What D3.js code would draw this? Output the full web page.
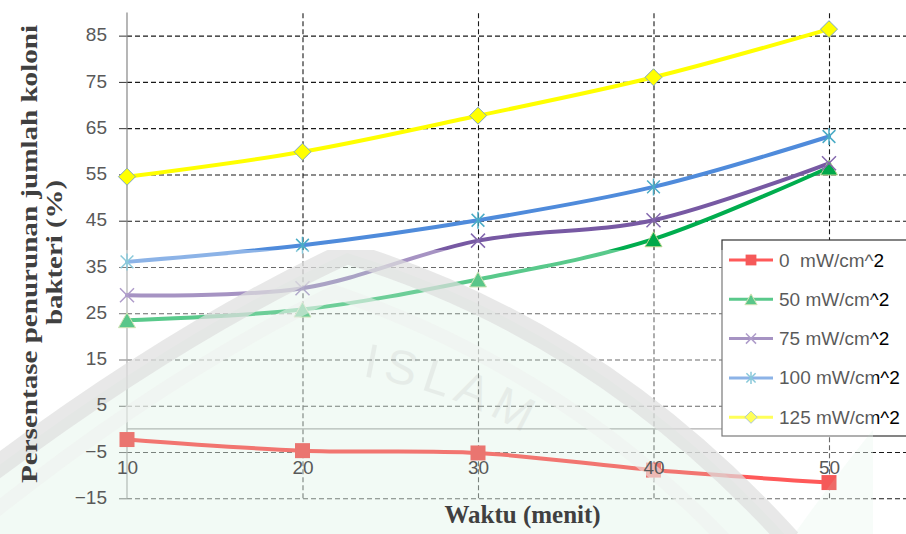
<!DOCTYPE html>
<html>
<head>
<meta charset="utf-8">
<script src="https://cdn.jsdelivr.net/npm/d3@7/dist/d3.min.js"></script>
<style>
  html, body { margin: 0; padding: 0; background: #fff; }
  svg { display: block; }
</style>
</head>
<body>
<svg id="chart" width="906" height="534"></svg>
<script>
// Waktu penyinaran (menit)
const waktu = [10, 20, 30, 40, 50];

// Persentase penurunan jumlah koloni bakteri (%) per intensitas
const intensitas0   = [-2.3, -4.7, -5.2, -8.9, -11.6];
const intensitas50  = [23.5, 25.8, 32.3, 41.0, 56.5];
const intensitas75  = [28.9, 30.4, 40.7, 45.1, 57.4];
const intensitas100 = [36.1, 39.7, 45.1, 52.3, 63.2];
const intensitas125 = [54.5, 59.9, 67.7, 76.0, 86.4];

const seriesLabels = ["0  mW/cm^2", "50 mW/cm^2", "75 mW/cm^2", "100 mW/cm^2", "125 mW/cm^2"];
const yTicks = [-15, -5, 5, 15, 25, 35, 45, 55, 65, 75, 85];

const W = 906, H = 534;
const svg = d3.select("#chart");

const x = d3.scaleLinear().domain([10, 50]).range([127, 829]);
const y = d3.scaleLinear().domain([-15, 90]).range([498.3, 12.5]);

svg.append("rect").attr("width", W).attr("height", H).attr("fill", "#fff");

// ---------- grid & axes ----------
const base = svg.append("g");

const gridY = base.append("g")
  .attr("transform", `translate(${x(10)},0)`)
  .call(d3.axisLeft(y).tickValues(yTicks).tickSize(-(W - x(10))).tickFormat(""));
gridY.select(".domain").remove();
gridY.selectAll(".tick line").attr("stroke", "#1a1a1a").attr("stroke-width", 1.1).attr("stroke-dasharray", "5,3");

const gridX = base.append("g")
  .attr("transform", `translate(0,${y(-15)})`)
  .call(d3.axisBottom(x).tickValues(waktu.slice(1)).tickSize(-(y(-15) - y(90))).tickFormat(""));
gridX.select(".domain").remove();
gridX.selectAll(".tick line").attr("stroke", "#1a1a1a").attr("stroke-width", 1.1).attr("stroke-dasharray", "5,3");

// small outside tick marks on the value axis
const tickMarks = base.append("g")
  .attr("transform", `translate(${x(10)},0)`)
  .call(d3.axisLeft(y).tickValues(yTicks).tickSize(8).tickFormat(""));
tickMarks.select(".domain").remove();
tickMarks.selectAll(".tick line").attr("stroke", "#333").attr("stroke-width", 1);

// value axis line and the horizontal line at zero
base.append("line")
  .attr("x1", x(10)).attr("x2", x(10)).attr("y1", y(90)).attr("y2", y(-15))
  .attr("stroke", "#868686").attr("stroke-width", 1.2);
base.append("line")
  .attr("x1", x(10)).attr("x2", W).attr("y1", y(0)).attr("y2", y(0))
  .attr("stroke", "#868686").attr("stroke-width", 1.2);

// ---------- marker glyphs ----------
function squarePath(s) { const h = s / 2; return `M${-h},${-h}H${h}V${h}H${-h}Z`; }
function trianglePath(w, h) { return `M0,${-h / 2}L${w / 2},${h / 2}L${-w / 2},${h / 2}Z`; }
function crossPath(s) { const h = s / 2; return `M${-h},${-h}L${h},${h}M${-h},${h}L${h},${-h}`; }
function starPath(s) { const h = s / 2, d = h * 0.75; return `M0,${-h}V${h}M${-d},${-d}L${d},${d}M${-d},${d}L${d},${-d}`; }
function diamondPath(w, h) { return `M0,${-h / 2}L${w / 2},0L0,${h / 2}L${-w / 2},0Z`; }

const series = [
  { label: seriesLabels[0], values: intensitas0,   line: "#FF0000",
    marker: s => squarePath(s * 15), fill: "#F00000", stroke: "#F00000", sw: 0 },
  { label: seriesLabels[1], values: intensitas50,  line: "#00AD4E",
    marker: s => trianglePath(s * 17, s * 15), fill: "#00A84A", stroke: "#B7D38C", sw: 1 },
  { label: seriesLabels[2], values: intensitas75,  line: "#7759A3",
    marker: s => crossPath(s * 14), fill: "none", stroke: "#8468AE", sw: 1.5 },
  { label: seriesLabels[3], values: intensitas100, line: "#4F8BDB",
    marker: s => starPath(s * 17), fill: "none", stroke: "#4BACC6", sw: 1.5 },
  { label: seriesLabels[4], values: intensitas125, line: "#FFFF00",
    marker: s => diamondPath(s * 17, s * 17), fill: "#FFFF00", stroke: "#7FA7C4", sw: 1 }
];

// ---------- series ----------
const lineGen = d3.line()
  .x((d, i) => x(waktu[i]))
  .y(d => y(d))
  .curve(d3.curveCatmullRom.alpha(0));

const plot = svg.append("g");
series.forEach(s => {
  plot.append("path")
    .attr("d", lineGen(s.values))
    .attr("fill", "none")
    .attr("stroke", s.line)
    .attr("stroke-width", 4)
    .attr("stroke-linecap", "round")
    .attr("stroke-linejoin", "round");
});
series.forEach(s => {
  plot.append("g").selectAll("path")
    .data(s.values)
    .join("path")
    .attr("transform", (d, i) => `translate(${x(waktu[i])},${y(d)})`)
    .attr("d", s.marker(1))
    .attr("fill", s.fill)
    .attr("stroke", s.stroke)
    .attr("stroke-width", s.sw);
});

// ---------- legend ----------
const legend = svg.append("g").attr("transform", "translate(722,240)");
legend.append("rect")
  .attr("x", 0).attr("y", 0).attr("width", 210).attr("height", 196)
  .attr("fill", "#fff").attr("stroke", "#333").attr("stroke-width", 1.2);

const items = legend.selectAll("g.item")
  .data(series)
  .join("g")
  .attr("class", "item")
  .attr("transform", (d, i) => `translate(0,${20 + i * 39.3})`);
items.append("line")
  .attr("x1", 7).attr("x2", 51).attr("y1", 0).attr("y2", 0)
  .attr("stroke", d => d.line).attr("stroke-width", 3);
items.append("path")
  .attr("transform", "translate(29,0)")
  .attr("d", d => d.marker(0.72))
  .attr("fill", d => d.fill)
  .attr("stroke", d => d.stroke)
  .attr("stroke-width", d => d.sw);
const legendText = items.append("text")
  .attr("x", 57).attr("y", 6.5)
  .attr("font-family", "'Liberation Sans', Arial, sans-serif")
  .attr("font-size", 19)
  .attr("fill", "#000")
  .style("white-space", "pre");
legendText.append("tspan").text(d => d.label.split("^")[0]);
legendText.append("tspan").text(d => "^" + d.label.split("^")[1]);

// ---------- faded emblem over the lower part of the page ----------
const defs = svg.append("defs");
defs.append("clipPath").attr("id", "wmClip")
  .append("rect").attr("x", 0).attr("y", 250).attr("width", 873).attr("height", H - 250);

const wm = svg.append("g").attr("clip-path", "url(#wmClip)");
wm.append("rect").attr("x", 0).attr("y", 0).attr("width", W).attr("height", H)
  .attr("fill", "#fff").attr("opacity", 0.35);

const outerArch = "M-10,472 Q180,330 347,253 Q600,330 790,540";
const innerArch = "M-10,515 Q170,372 335,292 Q565,372 725,540";
wm.append("path")
  .attr("d", outerArch + " L-10,540 Z")
  .attr("fill", "rgb(190,228,204)").attr("opacity", 0.2);
wm.append("path")
  .attr("d", "M790,540 Q840,470 873,430 L873,540 Z")
  .attr("fill", "rgb(190,228,204)").attr("opacity", 0.12);
wm.append("path")
  .attr("d", outerArch)
  .attr("fill", "none").attr("stroke", "rgb(222,222,222)").attr("stroke-width", 22).attr("opacity", 0.7);
wm.append("path")
  .attr("d", innerArch)
  .attr("fill", "none").attr("stroke", "rgb(238,240,239)").attr("stroke-width", 14).attr("opacity", 0.55);

defs.append("path").attr("id", "wmTextArc").attr("d", "M362,376 Q490,398 590,478");
wm.append("text")
  .attr("font-family", "'Liberation Sans', Arial, sans-serif")
  .attr("font-size", 48).attr("letter-spacing", 7)
  .attr("fill", "rgb(160,160,160)").attr("opacity", 0.14)
  .append("textPath").attr("href", "#wmTextArc").attr("startOffset", 0)
  .text("ISLAM");

// ---------- tick labels & titles ----------
const labels = svg.append("g");

const yLab = labels.append("g")
  .attr("transform", `translate(${x(10)},0)`)
  .call(d3.axisLeft(y).tickValues(yTicks).tickSize(8).tickPadding(12).tickFormat(d3.format("d")));
yLab.select(".domain").remove();
yLab.selectAll(".tick line").remove();
yLab.selectAll(".tick text")
  .attr("font-family", "'Liberation Sans', Arial, sans-serif")
  .attr("font-size", 19).attr("fill", "#595959").attr("dy", "0.27em");

const xLab = labels.append("g")
  .attr("transform", `translate(0,${y(0)})`)
  .call(d3.axisBottom(x).tickValues(waktu).tickSize(0).tickPadding(31.5).tickFormat(d3.format("d")));
xLab.select(".domain").remove();
xLab.selectAll(".tick text")
  .attr("font-family", "'Liberation Sans', Arial, sans-serif")
  .attr("font-size", 19).attr("fill", "#595959");

labels.append("text")
  .attr("x", 522.5).attr("y", 523)
  .attr("text-anchor", "middle")
  .attr("font-family", "'Liberation Serif', 'Times New Roman', serif")
  .attr("font-weight", "bold").attr("font-size", 25).attr("fill", "#404040")
  .text("Waktu (menit)");

labels.append("text")
  .attr("transform", "translate(37,254) rotate(-90)")
  .attr("text-anchor", "middle")
  .attr("font-family", "'Liberation Serif', 'Times New Roman', serif")
  .attr("font-weight", "bold").attr("font-size", 24).attr("fill", "#404040")
  .attr("textLength", 458).attr("lengthAdjust", "spacingAndGlyphs")
  .text("Persentase penurunan jumlah koloni");
labels.append("text")
  .attr("transform", "translate(62,252.5) rotate(-90)")
  .attr("text-anchor", "middle")
  .attr("font-family", "'Liberation Serif', 'Times New Roman', serif")
  .attr("font-weight", "bold").attr("font-size", 24).attr("fill", "#404040")
  .attr("textLength", 145).attr("lengthAdjust", "spacingAndGlyphs")
  .text("bakteri (%)");
</script>
</body>
</html>
